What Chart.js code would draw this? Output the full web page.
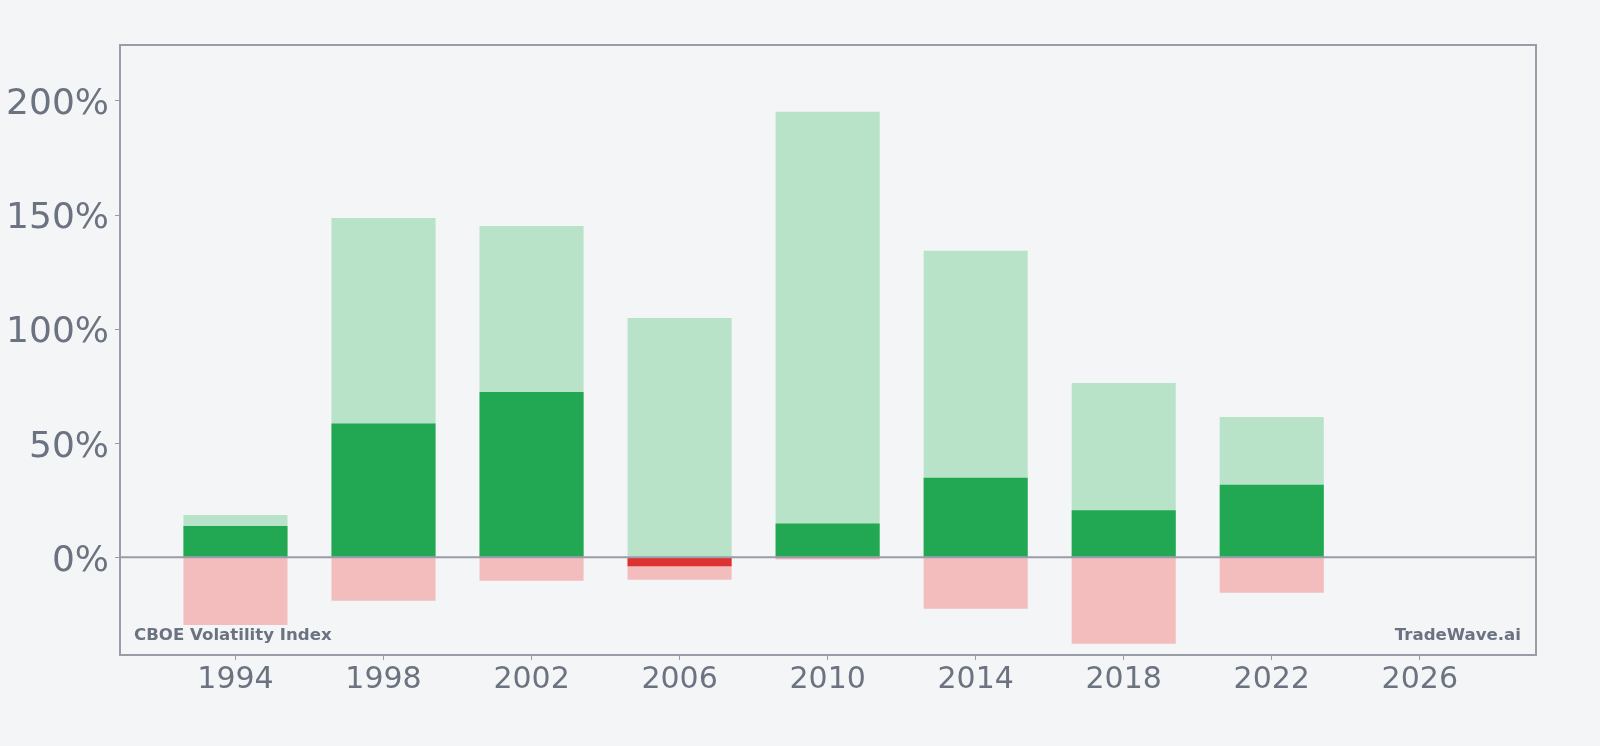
<!DOCTYPE html>
<html>
<head>
<meta charset="utf-8">
<script src="https://cdn.jsdelivr.net/npm/chart.js@4.4.1/dist/chart.umd.min.js"></script>
<style>
  html, body { margin: 0; padding: 0; background: #f4f5f7; }
  #wrap { width: 1600px; height: 746px; }
</style>
</head>
<body>
<div id="wrap"><canvas id="c"></canvas></div>
<script>
const years = [1994, 1998, 2002, 2006, 2010, 2014, 2018, 2022];
const yearReturn = [13.7, 58.6, 72.5, -3.9, 14.8, 34.9, 20.6, 31.8];
const maxGain = [18.5, 148.7, 145.2, 104.9, 195.2, 134.3, 76.4, 61.5];
const maxLoss = [-29.7, -19.0, -10.3, -9.8, -1.0, -22.5, -37.9, -15.5];
const xTicks = [1994, 1998, 2002, 2006, 2010, 2014, 2018, 2022, 2026];
const yTicks = [0, 50, 100, 150, 200];
const title = 'CBOE Volatility Index';
const brand = 'TradeWave.ai';

const GRAY = '#9a9ca8';
const TEXT = '#6b7280';

const pts = arr => years.map((y, i) => ({ x: y, y: arr[i] }));

const overlay = {
  id: 'overlay',
  afterDatasetsDraw(chart) {
    const { ctx, chartArea: a, scales } = chart;
    const y0 = scales.y.getPixelForValue(0);
    ctx.save();
    ctx.strokeStyle = GRAY;
    ctx.lineWidth = 2;
    ctx.beginPath();
    ctx.moveTo(a.left, y0);
    ctx.lineTo(a.right, y0);
    ctx.stroke();
    ctx.strokeRect(a.left, a.top, a.right - a.left, a.bottom - a.top);
    ctx.fillStyle = TEXT;
    ctx.font = 'bold 16.6px "DejaVu Sans"';
    ctx.textBaseline = 'alphabetic';
    ctx.textAlign = 'left';
    ctx.fillText(title, a.left + 14, a.bottom - 15);
    ctx.textAlign = 'right';
    ctx.fillText(brand, a.right - 15, a.bottom - 15);
    ctx.restore();
  }
};

new Chart(document.getElementById('c'), {
  type: 'bar',
  data: {
    datasets: [
      { data: pts(yearReturn), backgroundColor: yearReturn.map(v => v >= 0 ? '#22a853' : '#dc3232'), grouped: false, order: 0 },
      { data: pts(maxLoss), backgroundColor: '#f3bdbd', grouped: false, order: 1 },
      { data: pts(maxGain), backgroundColor: '#b8e3c8', grouped: false, order: 2 }
    ]
  },
  options: {
    responsive: true,
    maintainAspectRatio: false,
    animation: false,
    devicePixelRatio: 1,
    layout: { padding: { left: 0, right: 64, top: 45, bottom: 20 } },
    plugins: { legend: { display: false }, tooltip: { enabled: false } },
    datasets: { bar: { categoryPercentage: 1, barPercentage: 0.703, borderWidth: 0 } },
    scales: {
      x: {
        type: 'linear',
        offset: false,
        min: 1990.88,
        max: 2029.14,
        afterBuildTicks: s => { s.ticks = xTicks.map(v => ({ value: v })); },
        afterFit: s => { s.height = 71; },
        border: { display: false },
        grid: { offset: false, drawOnChartArea: false, tickLength: 5, tickColor: GRAY, tickWidth: 1 },
        ticks: { color: TEXT, font: { family: 'DejaVu Sans', size: 30 }, padding: 2, maxRotation: 0, callback: v => String(v) }
      },
      y: {
        min: -42.8,
        max: 224.5,
        afterBuildTicks: s => { s.ticks = yTicks.map(v => ({ value: v })); },
        afterFit: s => { s.width = 120; },
        border: { display: false },
        grid: { drawOnChartArea: false, tickLength: 5, tickColor: GRAY, tickWidth: 1 },
        ticks: { color: TEXT, font: { family: 'DejaVu Sans', size: 36 }, padding: 6, labelOffset: 4, callback: v => v + '%' }
      }
    }
  },
  plugins: [overlay]
});
</script>
</body>
</html>
